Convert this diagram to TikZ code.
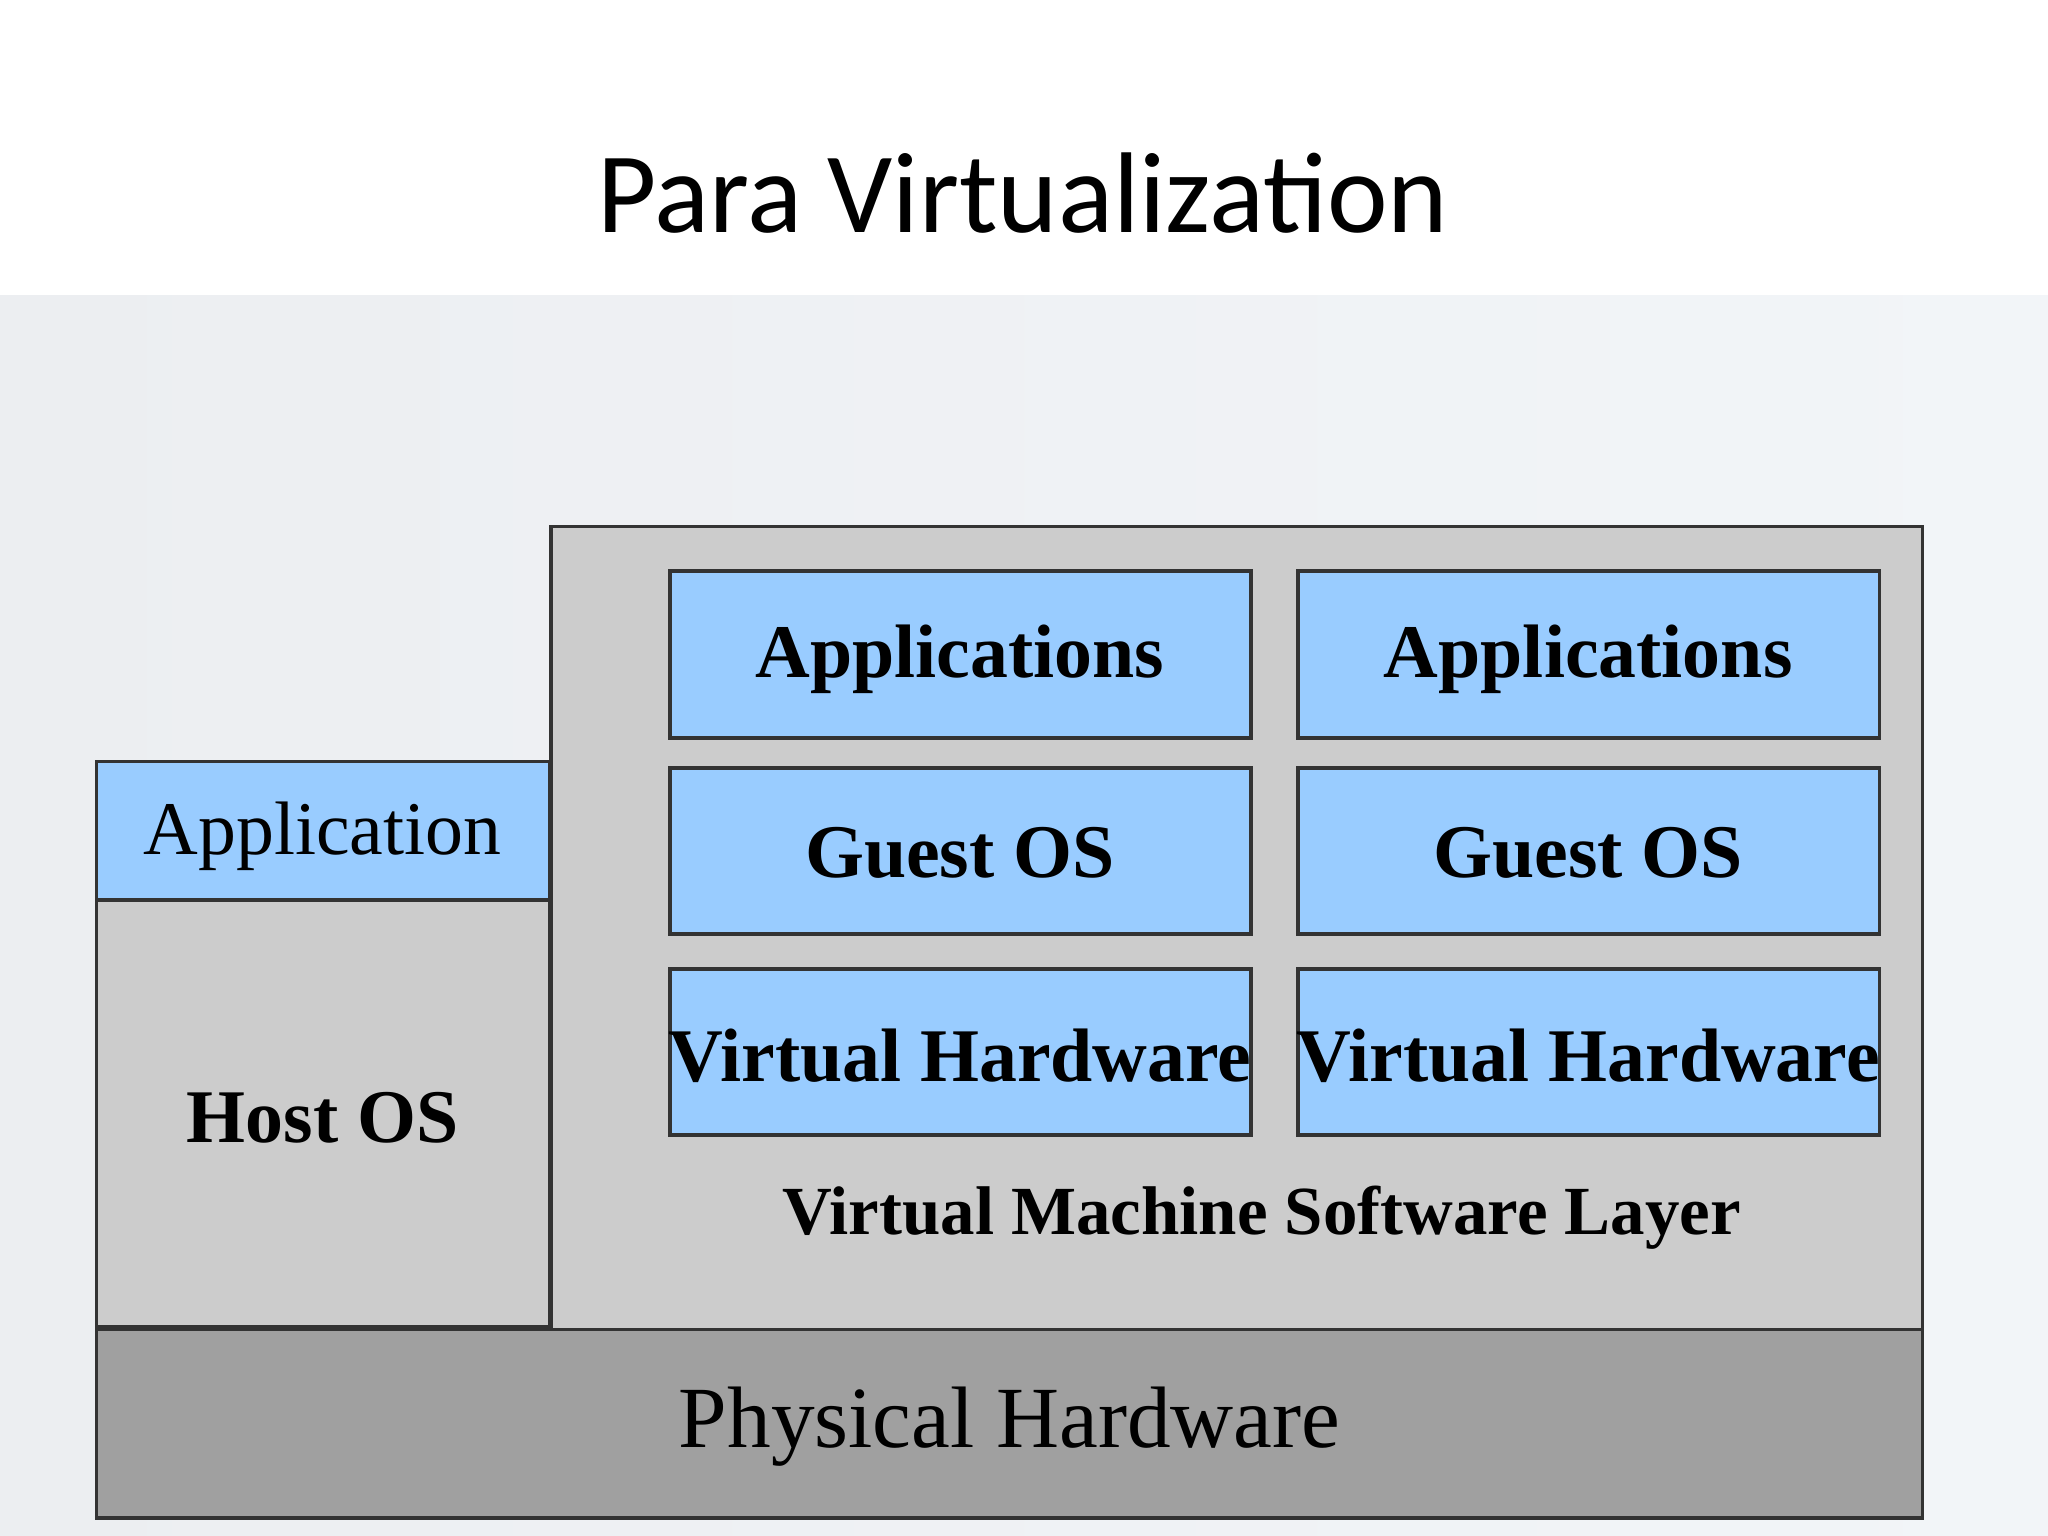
\documentclass[tikz,border=0pt]{standalone}
\usepackage{fontspec}
\setmainfont{Liberation Serif}
\newfontfamily\titlefont{Carlito}
\begin{document}
\begin{tikzpicture}[x=0.01cm,y=-0.01cm,
  box/.style={draw=black!80,line width=0.8pt},
  btxt/.style={font=\fontsize{16.5}{19}\selectfont\bfseries}]
\useasboundingbox (0,0) rectangle (1568,1176);
\fill[white] (0,0) rectangle (1568,226);
\shade[left color={rgb,255:red,236;green,238;blue,241},right color={rgb,255:red,242;green,245;blue,248}] (0,226) rectangle (1568,1176);
\node[font=\titlefont\fontsize{25}{30}\selectfont] (title) at (783,148) {Para Virtualization};
\draw[box,fill={rgb,255:red,204;green,204;blue,204}] (422,403) rectangle (1472,1018);
\draw[box,fill={rgb,255:red,204;green,204;blue,204}] (74,689) rectangle (421,1016);
\draw[box,fill={rgb,255:red,153;green,204;blue,255}] (74,583) rectangle (421,689);
\draw[box,fill={rgb,255:red,160;green,160;blue,160}] (74,1018) rectangle (1472,1162);
\foreach \x/\c in {513/a,994/b}{
  \draw[box,fill={rgb,255:red,153;green,204;blue,255}] (\x,437) rectangle (\x+445,565);
  \draw[box,fill={rgb,255:red,153;green,204;blue,255}] (\x,588) rectangle (\x+445,715);
  \draw[box,fill={rgb,255:red,153;green,204;blue,255}] (\x,742) rectangle (\x+445,869);
  \node[btxt] (app\c) at (\x+222,505) {Applications};
  \node[btxt] (gos\c) at (\x+222,653) {Guest OS};
  \node[btxt] (vh\c) at (\x+222,808) {Virtual Hardware};
}
\node[font=\fontsize{16.5}{19}\selectfont] (app) at (247,640) {Application};
\node[btxt] (host) at (247,856) {Host OS};
\node[font=\fontsize{15}{18}\selectfont\bfseries] (vmsl) at (966,932) {Virtual Machine Software Layer};
\node[font=\fontsize{19}{22}\selectfont] (phw) at (773,1092) {Physical Hardware};
\end{tikzpicture}
\end{document}
